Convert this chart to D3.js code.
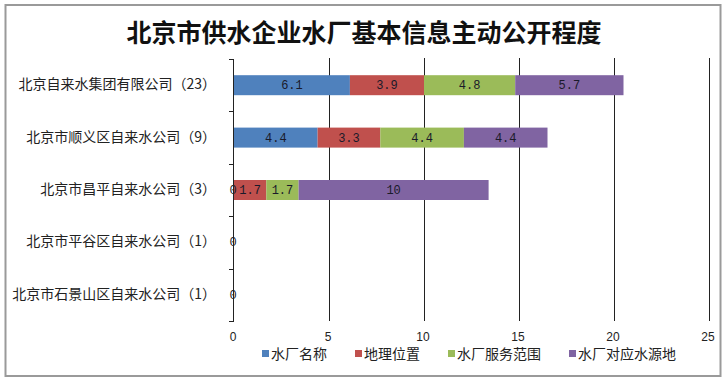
<!DOCTYPE html>
<html>
<head>
<meta charset="utf-8">
<script src="https://cdn.jsdelivr.net/npm/d3@7"></script>
<style>
    body { margin: 0; background: #fff; }
    svg { display: block; }
</style>
</head>
<body>
<div id="chart"></div>
<script>
// chart data
const title = "北京市供水企业水厂基本信息主动公开程度";
const companies = [
    "北京自来水集团有限公司（23）",
    "北京市顺义区自来水公司（9）",
    "北京市昌平自来水公司（3）",
    "北京市平谷区自来水公司（1）",
    "北京市石景山区自来水公司（1）"
];
const seriesNames = ["水厂名称", "地理位置", "水厂服务范围", "水厂对应水源地"];
const plantName   = [6.1, 4.4, 0, 0, 0];
const geoPosition = [3.9, 3.3, 1.7, 0, 0];
const serviceArea = [4.8, 4.4, 1.7, 0, 0];
const waterSource = [5.7, 4.4, 10, 0, 0];
const xTicks = [0, 5, 10, 15, 20, 25];
const colors = ["#4F81BD", "#C0504D", "#9BBB59", "#8064A2"];

const W = 726, H = 378;
const plot = {left: 234, right: 709, top: 59, bottom: 321};

let svg = d3.select("#chart").append("svg")
    .attr("width", W)
    .attr("height", H);

// outer frame
svg.append("rect")
    .attr("x", 5.5).attr("y", 5)
    .attr("width", 715).attr("height", 371)
    .attr("fill", "#fff")
    .attr("stroke", "#9a9a9a")
    .attr("stroke-width", 2);

// title
svg.append("text")
    .attr("x", 364).attr("y", 42)
    .attr("text-anchor", "middle")
    .style("font-family", "'Noto Sans CJK SC'")
    .style("font-weight", "bold")
    .style("font-size", "25px")
    .attr("fill", "#111")
    .text(title);

// scales
let x = d3.scaleLinear().domain([0, 25]).range([plot.left, plot.right]);
let y = d3.scaleBand().domain(companies).range([plot.top, plot.bottom]);
let barH = 20;

// gridlines (extend to the bottom like tick marks)
svg.append("g").selectAll("line")
    .data(xTicks.filter(d => d > 0))
    .enter().append("line")
    .attr("x1", d => Math.round(x(d)) + 0.5)
    .attr("x2", d => Math.round(x(d)) + 0.5)
    .attr("y1", plot.top - 1)
    .attr("y2", plot.bottom)
    .attr("stroke", "#222")
    .attr("stroke-width", 1);

// x tick labels
svg.append("g").selectAll("text")
    .data(xTicks)
    .enter().append("text")
    .attr("x", d => x(d) - 1)
    .attr("y", 341)
    .attr("text-anchor", "middle")
    .style("font-family", "'Liberation Sans'")
    .style("font-size", "12px")
    .attr("fill", "#222")
    .text(d => d);

// stacked data
let table = companies.map((c, i) => ({
    company: c,
    [seriesNames[0]]: plantName[i],
    [seriesNames[1]]: geoPosition[i],
    [seriesNames[2]]: serviceArea[i],
    [seriesNames[3]]: waterSource[i]
}));
let stacked = d3.stack().keys(seriesNames)(table);

let layers = svg.append("g").selectAll("g")
    .data(stacked)
    .enter().append("g")
    .attr("fill", (d, i) => colors[i]);

layers.selectAll("rect")
    .data(d => d)
    .enter().append("rect")
    .attr("x", d => x(d[0]))
    .attr("y", d => y(d.data.company) + (y.bandwidth() - barH) / 2)
    .attr("width", d => x(d[1]) - x(d[0]))
    .attr("height", barH);

// value labels (zero labels at the same spot are only drawn once)
let labels = svg.append("g");
let seen = new Set();
stacked.forEach(layer => {
    let shown = layer.filter(d => {
        let key = d.data.company + "|" + d[0] + "|" + d[1];
        if (seen.has(key)) return false;
        seen.add(key);
        return true;
    });
    labels.selectAll(null)
        .data(shown)
        .enter().append("text")
        .attr("x", d => (x(d[0]) + x(d[1])) / 2 - (d[1] === d[0] ? 1 : 0))
        .attr("y", d => y(d.data.company) + y.bandwidth() / 2 + 4)
        .attr("text-anchor", "middle")
        .style("font-family", "'Liberation Mono'")
        .style("font-size", "12px")
        .attr("fill", "#1a1a2a")
        .text(d => +(d[1] - d[0]).toFixed(1));
});

// y axis with category ticks pointing left
let yAxis = svg.append("g");
yAxis.append("line")
    .attr("x1", plot.left - 0.5).attr("x2", plot.left - 0.5)
    .attr("y1", plot.top).attr("y2", plot.bottom)
    .attr("stroke", "#222");
yAxis.selectAll(".cat-tick")
    .data(companies.map(c => y(c)).concat([plot.bottom]))
    .enter().append("line")
    .attr("x1", plot.left - 5).attr("x2", plot.left)
    .attr("y1", d => Math.round(d) + 0.5)
    .attr("y2", d => Math.round(d) + 0.5)
    .attr("stroke", "#222");

// category labels
svg.append("g").selectAll("text")
    .data(companies)
    .enter().append("text")
    .attr("x", 216)
    .attr("y", d => y(d) + y.bandwidth() / 2 + 4)
    .attr("text-anchor", "end")
    .style("font-family", "'Noto Sans CJK SC'")
    .style("font-size", "14px")
    .attr("fill", "#222")
    .text(d => d);

// legend
let legend = svg.append("g").attr("transform", "translate(262, 354)");
let lx = 0;
seriesNames.forEach((name, i) => {
    let item = legend.append("g").attr("transform", `translate(${lx}, 0)`);
    item.append("rect")
        .attr("x", 0).attr("y", -4)
        .attr("width", 7).attr("height", 7)
        .attr("fill", colors[i]);
    let t = item.append("text")
        .attr("x", 9).attr("y", 5)
        .style("font-family", "'Noto Sans CJK SC'")
        .style("font-size", "14px")
        .attr("fill", "#222")
        .text(name);
    lx += 9 + t.node().getComputedTextLength() + 28;
});
</script>
</body>
</html>
